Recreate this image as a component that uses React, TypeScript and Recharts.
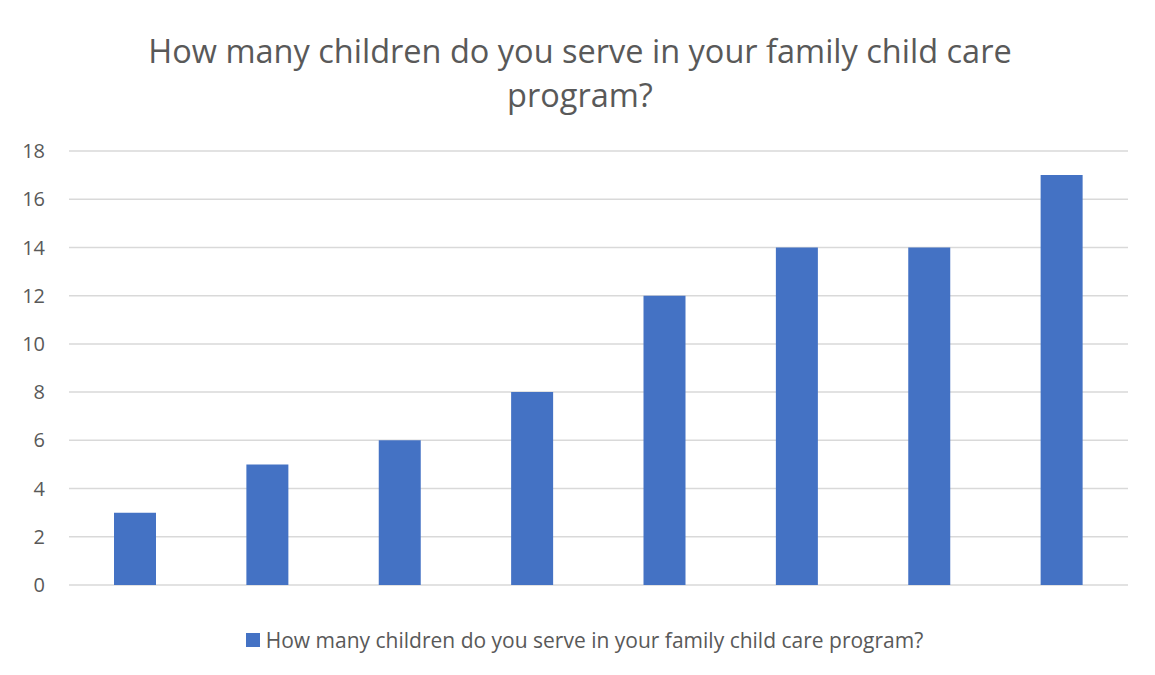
import React from "react";
import {
  Bar,
  BarChart,
  CartesianGrid,
  Legend,
  XAxis,
  YAxis,
} from "recharts";

// Chart data
const categories = ["1", "2", "3", "4", "5", "6", "7", "8"];
const childrenServed = [3, 5, 6, 8, 12, 14, 14, 17];
const yTicks = [0, 2, 4, 6, 8, 10, 12, 14, 16, 18];

const seriesName =
  "How many children do you serve in your family child care program?";
const titleLines = [
  "How many children do you serve in your family child care",
  "program?",
];

const data = categories.map((c, i) => ({ category: c, value: childrenServed[i] }));

const FONT = '"Open Sans", "Noto Sans", sans-serif';
const TEXT = "#595959";

const LegendContent = () => (
  <div
    style={{
      height: 30,
      display: "flex",
      alignItems: "center",
      justifyContent: "center",
      fontFamily: FONT,
      fontSize: 21,
      color: TEXT,
    }}
  >
    <span
      style={{
        width: 14,
        height: 14,
        background: "#4472C4",
        marginRight: 6,
        display: "inline-block",
      }}
    />
    <span>{seriesName}</span>
  </div>
);

const App = () => {
  return (
    <div
      style={{
        position: "relative",
        width: 1155,
        height: 675,
        marginLeft: -8,
        marginTop: -8,
      }}
    >
      <div
        style={{
          position: "absolute",
          left: 0,
          top: 29,
          width: 1160,
          textAlign: "center",
          fontFamily: FONT,
          fontSize: 32.5,
          lineHeight: "44px",
          color: TEXT,
          zIndex: 1,
        }}
      >
        {titleLines.map((t) => (
          <div key={t}>{t}</div>
        ))}
      </div>
      <BarChart
        width={1155}
        height={675}
        data={data}
        margin={{ top: 151, right: 27, left: 0, bottom: 60 }}
        style={{ position: "absolute", left: 0, top: 0 }}
      >
        {/* chart frame, only top and left edges are in view */}
        <path d="M5.5,675 L5.5,6.5 L1155,6.5" fill="none" stroke="#d4d4d4" strokeWidth={2} />
        <CartesianGrid vertical={false} stroke="#d9d9d9" strokeWidth={1.5} />
        <XAxis dataKey="category" hide />
        <YAxis
          width={69}
          domain={[0, 18]}
          ticks={yTicks}
          axisLine={false}
          tickLine={false}
          tickMargin={18}
          tick={{ fill: TEXT, fontSize: 20, fontFamily: FONT }}
        />
        <Legend
          verticalAlign="bottom"
          content={<LegendContent />}
          wrapperStyle={{ left: 0, width: 1169, top: 625 }}
        />
        <Bar
          dataKey="value"
          name={seriesName}
          fill="#4472C4"
          barSize={42}
          isAnimationActive={false}
        />
      </BarChart>
    </div>
  );
};

export default App;
